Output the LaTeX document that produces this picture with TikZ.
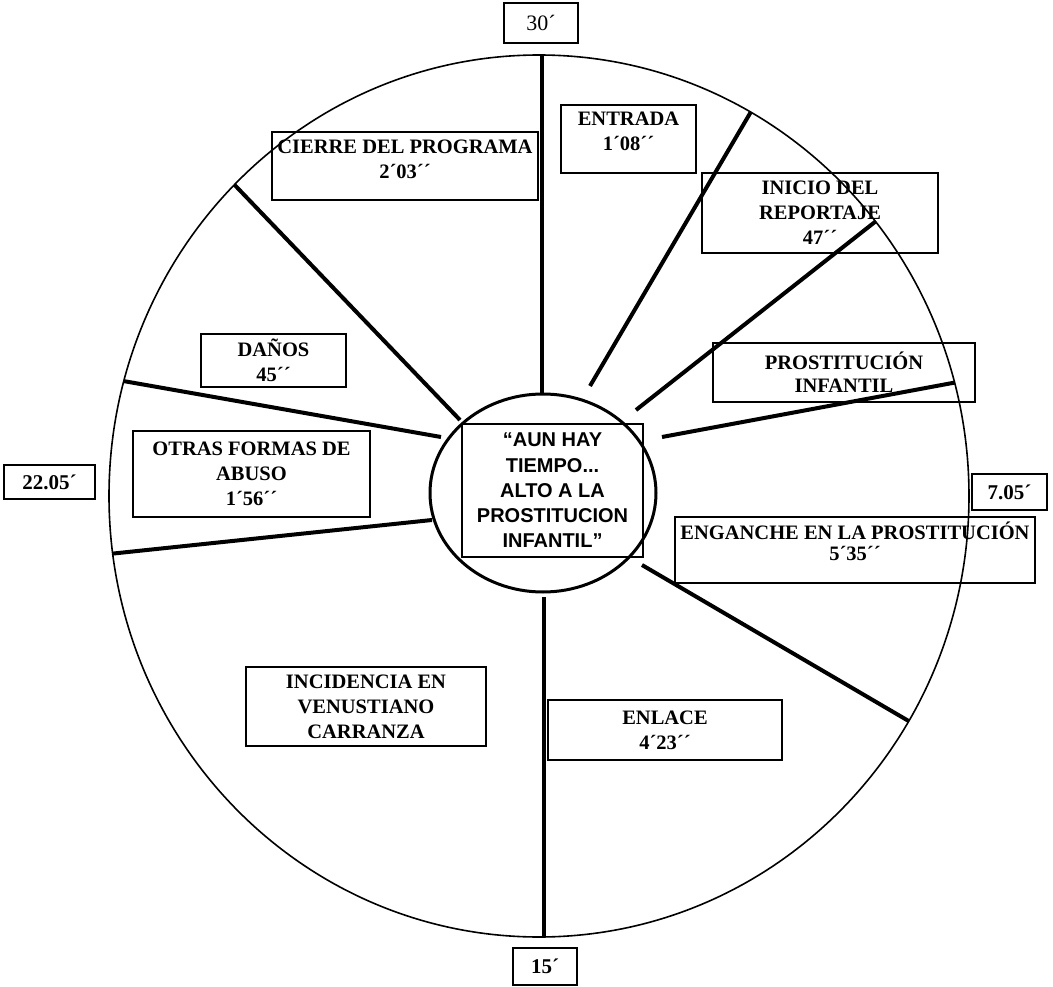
\documentclass[tikz,border=0pt]{standalone}
\usepackage{fontspec}
\setmainfont{Liberation Serif}
\newfontfamily\arialf{Liberation Sans}
\usetikzlibrary{shapes.geometric}
\begin{document}
\begin{tikzpicture}[x=1pt,y=-1pt,
  lbl/.style={draw, line width=1.5pt, align=center, inner sep=0pt,
    font=\fontsize{20.5}{25}\selectfont\bfseries},
  tbox/.style={lbl, font=\fontsize{21}{25}\selectfont\bfseries},
  spoke/.style={line width=4pt},
  rim/.style={line width=1.6pt},
]
\useasboundingbox (0,0) rectangle (1053,987);

% label boxes
\node[lbl, minimum width=266pt, minimum height=68pt, text depth=14pt] (cierre) at (405,166) {CIERRE DEL PROGRAMA\\2´03´´};
\node[lbl, minimum width=135pt, minimum height=68pt, text depth=15pt] (entrada) at (628.5,139) {ENTRADA\\1´08´´};
\node[lbl, minimum width=236pt, minimum height=80pt] (inicio) at (820,213) {INICIO DEL\\REPORTAJE\\47´´};
\node[lbl, minimum width=262pt, minimum height=59pt, font=\fontsize{20.5}{23}\selectfont\bfseries] (prost) at (844,372.5) {PROSTITUCIÓN\\INFANTIL};
\node[tbox, minimum width=75pt, minimum height=36pt] (t705) at (1009.5,492) {7.05´};
\node[lbl, minimum width=360pt, minimum height=66pt, text depth=18pt, font=\fontsize{20.5}{21}\selectfont\bfseries] (engan) at (855,550) {ENGANCHE EN LA PROSTITUCIÓN\\5´35´´};
\node[lbl, minimum width=234pt, minimum height=60pt] (enlace) at (665,730) {ENLACE\\4´23´´};
\node[lbl, minimum width=240pt, minimum height=79pt] (incid) at (366,706.5) {INCIDENCIA EN\\VENUSTIANO\\CARRANZA};
\node[tbox, minimum width=64pt, minimum height=37pt] (t15) at (545,966.5) {15´};
\node[tbox, minimum width=91pt, minimum height=34pt] (t22) at (49.5,482) {22.05´};
\node[lbl, minimum width=237pt, minimum height=86pt] (otras) at (251.5,474) {OTRAS FORMAS DE\\ABUSO\\1´56´´};
\node[lbl, minimum width=145pt, minimum height=53pt] (danos) at (273.5,360.5) {DAÑOS\\45´´};
\node[lbl, minimum width=74pt, minimum height=40pt, font=\fontsize{22}{25}\selectfont] (t30) at (541,23) {30´};

% outer rim
\node[draw, rim, ellipse, minimum width=860pt, minimum height=882pt, inner sep=0pt] (outer) at (539,496) {};

% inner ellipse and title
\node[draw, ellipse, line width=3pt, minimum width=226pt, minimum height=198pt, inner sep=0pt] (inner) at (543,493) {};
\node[draw, line width=2.5pt, minimum width=181pt, minimum height=133pt, inner sep=0pt, align=center,
  font=\arialf\fontsize{20}{25.3}\selectfont\bfseries] (title) at (552.5,490.5)
  {“AUN HAY\\TIEMPO...\\ALTO A LA\\PROSTITUCION\\INFANTIL”};

% spoke ends
\coordinate (a1) at (542,394);  \coordinate (b1) at (542,55);
\coordinate (a2) at (590,386);  \coordinate (b2) at (750.7,112.2);
\coordinate (a3) at (636,410);  \coordinate (b3) at (875.5,221.5);
\coordinate (a4) at (662,437);  \coordinate (b4) at (954.6,382.6);
\coordinate (a5) at (642,565);  \coordinate (b5) at (908.8,721.1);
\coordinate (a6) at (544,597);  \coordinate (b6) at (544,937);
\coordinate (a7) at (432,520);  \coordinate (b7) at (112.7,553.6);
\coordinate (a8) at (441,437);  \coordinate (b8) at (123.8,381.1);
\coordinate (a9) at (460,420);  \coordinate (b9) at (234.4,184.7);

\foreach \i in {1,...,9} { \draw[spoke] (a\i) -- (b\i); }
\end{tikzpicture}
\end{document}
